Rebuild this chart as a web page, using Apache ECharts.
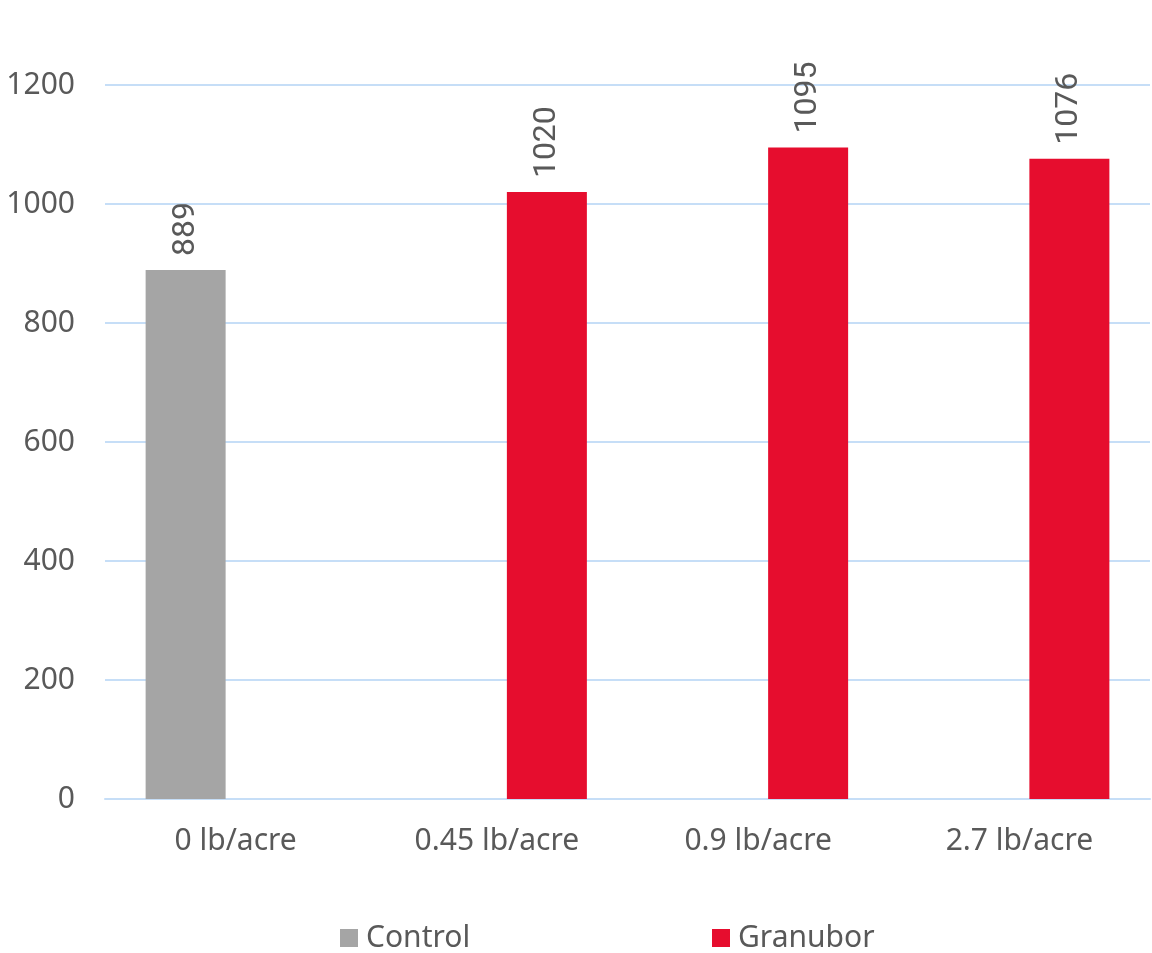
<!DOCTYPE html>
<html>
<head>
<meta charset="utf-8">
<script src="https://cdn.jsdelivr.net/npm/echarts@6/dist/echarts.min.js"></script>
<style>html,body{margin:0;padding:0;background:#fff}#c{width:1152px;height:953px}</style>
</head>
<body>
<div id="c"></div>
<script>
const categories = ['0 lb/acre', '0.45 lb/acre', '0.9 lb/acre', '2.7 lb/acre'];
const controlValues = [889, '-', '-', '-'];
const granuborValues = ['-', 1020, 1095, 1076];
const yTicks = {min: 0, max: 1200, interval: 200};

const chart = echarts.init(document.getElementById('c'), null, {renderer: 'canvas'});
const textColor = '#595959';
const axisFont = 'Noto Sans';
const gridColor = '#c6def7';
const labelCfg = {
  show: true, position: 'top', rotate: 90, align: 'left', verticalAlign: 'middle',
  distance: 14, color: textColor, fontFamily: 'Roboto', fontSize: 32
};
const legendText = {color: textColor, fontFamily: axisFont, fontSize: 30, padding: [0, 0, 0, 3]};
chart.setOption({
  animation: false,
  grid: {left: 105, right: 2, top: 85, bottom: 154, containLabel: false},
  legend: [
    {data: ['Control'], left: 335, top: 918, icon: 'rect', itemWidth: 18, itemHeight: 18, textStyle: legendText},
    {data: ['Granubor'], left: 707, top: 918, icon: 'rect', itemWidth: 18, itemHeight: 18, textStyle: legendText}
  ],
  xAxis: {
    type: 'category', data: categories,
    axisLine: {lineStyle: {color: gridColor, width: 2}},
    axisTick: {show: false},
    axisLabel: {color: textColor, fontFamily: axisFont, fontSize: 30, margin: 27}
  },
  yAxis: {
    type: 'value', min: yTicks.min, max: yTicks.max, interval: yTicks.interval,
    axisLine: {show: false}, axisTick: {show: false},
    splitLine: {lineStyle: {color: gridColor, width: 2}},
    axisLabel: {color: textColor, fontFamily: axisFont, fontSize: 30, margin: 30,
      formatter: v => String(v)}
  },
  series: [
    {name: 'Control', type: 'bar', data: controlValues, barWidth: 80, barGap: '25%',
     itemStyle: {color: '#a5a5a5'}, label: labelCfg},
    {name: 'Granubor', type: 'bar', data: granuborValues, barWidth: 80, barGap: '25%',
     itemStyle: {color: '#e60d2e'}, label: labelCfg}
  ]
});
</script>
</body>
</html>
